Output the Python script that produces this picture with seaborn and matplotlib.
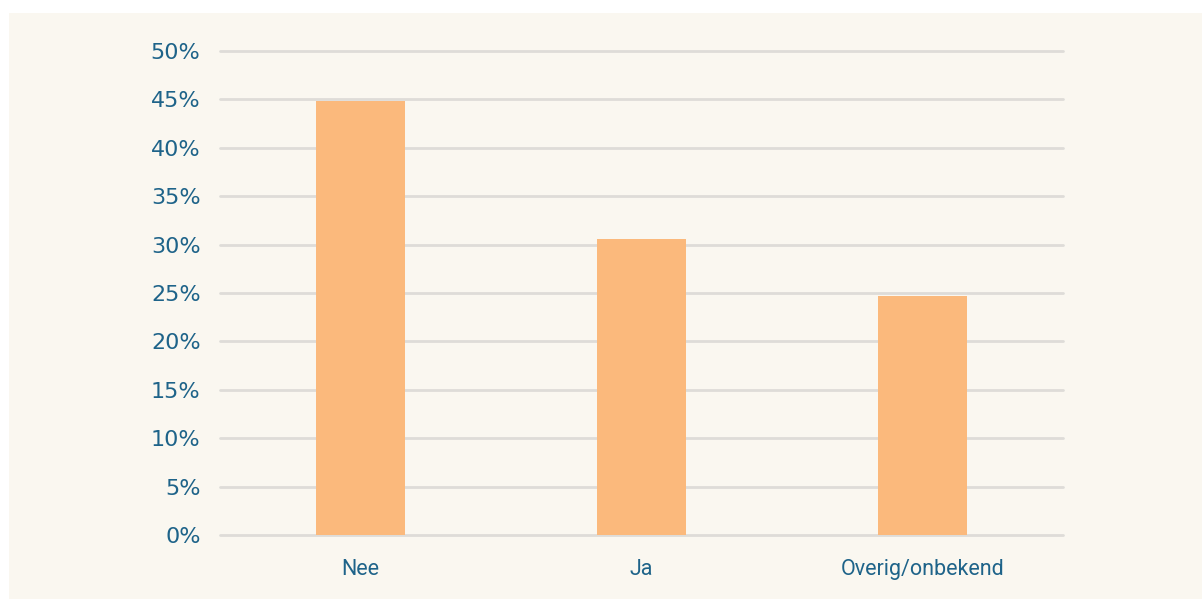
import matplotlib
matplotlib.use("Agg")
import matplotlib.pyplot as plt
import seaborn as sns
import pandas as pd
from matplotlib.patches import Rectangle
from matplotlib.ticker import FuncFormatter

categories = ["Nee", "Ja", "Overig/onbekend"]
values = [44.8, 30.6, 24.7]
yticks = [0, 5, 10, 15, 20, 25, 30, 35, 40, 45, 50]

BG = "#FAF7F0"
BAR = "#FBB97C"
TXT = "#1E6389"
GRID = "#DEDCD8"

sns.set_theme(style="white")
plt.rcParams['font.family'] = ['DejaVu Sans']

W, H = 1202, 599
fig = plt.figure(figsize=(W / 100, H / 100), dpi=100, facecolor="white")
bgrect = Rectangle((9 / W, 0), 1 - 9 / W, (H - 13) / H,
                   transform=fig.transFigure, facecolor=BG,
                   edgecolor="none", zorder=-10)
fig.add_artist(bgrect)

left, right, top, bottom = 220, 1063, 51, 535
ax = fig.add_axes([left / W, (H - bottom) / H, (right - left) / W, (bottom - top) / H])
ax.set_zorder(1)
ax.set_facecolor(BG)

df = pd.DataFrame({"cat": categories, "val": values})
sns.barplot(data=df, x="cat", y="val", color=BAR, width=0.317,
            saturation=1, linewidth=0, edgecolor="none", ax=ax, zorder=3)

ax.set_xlim(-0.5, 2.5)
ax.set_ylim(0, 50)
ax.set_yticks(yticks)
ax.yaxis.set_major_formatter(FuncFormatter(lambda v, p: f"{int(v)}%"))
for y in yticks:
    ax.axhline(y, color=GRID, linewidth=2, zorder=1, clip_on=False)

for s in ax.spines.values():
    s.set_visible(False)
ax.set_xlabel("")
ax.set_ylabel("")
ax.tick_params(axis="y", length=0, pad=14, labelsize=16, labelcolor=TXT)
ax.tick_params(axis="x", length=0, pad=17, labelcolor=TXT)
for lab in ax.get_xticklabels():
    lab.set_fontfamily("Roboto")
    lab.set_fontsize(15.5)

fig.savefig("out.png", dpi=100, facecolor="white")
